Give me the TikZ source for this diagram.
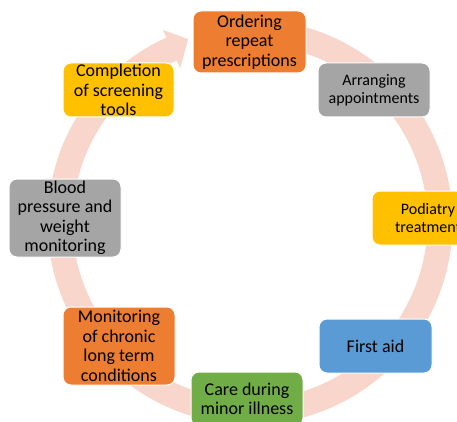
\documentclass[tikz,border=0pt]{standalone}
\usepackage{fontspec}
\setmainfont{Carlito}
\definecolor{ringpink}{RGB}{248,214,204}
\definecolor{boxorange}{RGB}{237,125,49}
\definecolor{boxgray}{RGB}{165,165,165}
\definecolor{boxgold}{RGB}{255,192,0}
\definecolor{boxblue}{RGB}{91,155,213}
\definecolor{boxgreen}{RGB}{112,173,71}
\tikzset{
  stagebox/.style={draw=white, line width=1pt, rounded corners=8pt,
    inner sep=0pt, align=center, text=black,
    font=\fontsize{18}{19.5}\selectfont},
  smalltext/.style={font=\fontsize{16}{18}\selectfont},
}
\begin{document}
\begin{tikzpicture}[x=1pt, y=1pt]
  \useasboundingbox (0,0) rectangle (457,421);
  \clip (0,0) rectangle (457,421);
  \fill[white] (0,0) rectangle (457,421);

  % circular arrow running clockwise behind the stages
  \coordinate (c) at (250,199);
  \fill[ringpink]
    ([shift={(c)}]85:202.5pt) arc[start angle=85, end angle=-245.6, radius=202.5pt]
    -- ([shift={(c)}]114.4:211pt)
    -- ([shift={(c)}]108.7:193pt)
    -- ([shift={(c)}]114.4:169pt)
    -- ([shift={(c)}]114.4:177.5pt)
    arc[start angle=-245.6, end angle=85, radius=177.5pt]
    -- cycle;

  % stages
  \node[stagebox, fill=boxorange, minimum width=113pt, minimum height=62pt]
    (order) at (249.5,379) {Ordering\\repeat\\prescriptions};
  \node[stagebox, smalltext, fill=boxgray, minimum width=112pt, minimum height=54pt]
    (arrange) at (374,331) {Arranging\\appointments};
  \node[stagebox, smalltext, fill=boxgold, minimum width=112pt, minimum height=54pt]
    (podiatry) at (428,203) {Podiatry\\treatment};
  \node[stagebox, fill=boxblue, minimum width=113pt, minimum height=54pt]
    (firstaid) at (375.5,75) {First aid};
  \node[stagebox, fill=boxgreen, minimum width=112pt, minimum height=54pt]
    (minor) at (247,22) {Care during\\minor illness};
  \node[stagebox, fill=boxorange, minimum width=112pt, minimum height=78pt]
    (chronic) at (119,75) {Monitoring\\of chronic\\long term\\conditions};
  \node[stagebox, fill=boxgray, minimum width=112pt, minimum height=78pt]
    (blood) at (65,203) {Blood\\pressure and\\weight\\monitoring};
  \node[stagebox, fill=boxgold, minimum width=111pt, minimum height=54pt]
    (screen) at (118.5,331) {Completion\\of screening\\tools};
\end{tikzpicture}
\end{document}
